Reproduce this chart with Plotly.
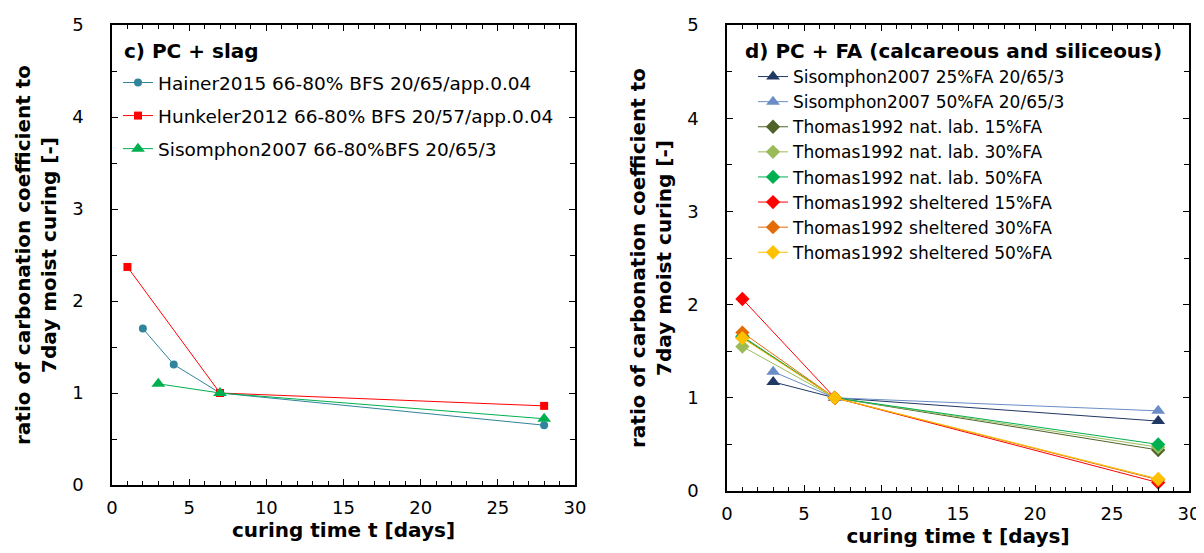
import plotly.graph_objects as go

# ---------------- data ----------------
# c) PC + slag
hainer_x = [2, 4, 7, 28]
hainer_y = [1.70, 1.31, 1.00, 0.65]
hunkeler_x = [1, 7, 28]
hunkeler_y = [2.37, 1.00, 0.86]
sis_slag_x = [3, 7, 28]
sis_slag_y = [1.10, 1.00, 0.72]

# d) PC + FA
sis25_x = [3, 7, 28]
sis25_y = [1.17, 1.00, 0.75]
sis50_x = [3, 7, 28]
sis50_y = [1.28, 1.00, 0.86]
thomas_x = [1, 7, 28]
nat15_y = [1.65, 1.00, 0.44]
nat30_y = [1.55, 1.00, 0.47]
nat50_y = [1.66, 1.00, 0.50]
sh15_y = [2.06, 1.00, 0.09]
sh30_y = [1.70, 1.00, 0.12]
sh50_y = [1.64, 1.00, 0.13]

x_ticks = [0, 5, 10, 15, 20, 25, 30]
y_ticks = [0, 1, 2, 3, 4, 5]

FONT = "DejaVu Sans, Verdana, sans-serif"
W, H = 1204, 553

fig = go.Figure()


def add(x, y, name, color, symbol, size, xa, ya, legend):
    fig.add_trace(go.Scatter(
        x=x, y=y, name=name, mode="lines+markers",
        line=dict(color=color, width=1),
        marker=dict(color=color, symbol=symbol, size=size),
        xaxis=xa, yaxis=ya, legend=legend, legendgroup=name,
    ))


add(hainer_x, hainer_y, "Hainer2015 66-80% BFS 20/65/app.0.04", "#31849B", "circle", 8, "x", "y", "legend")
add(hunkeler_x, hunkeler_y, "Hunkeler2012 66-80% BFS 20/57/app.0.04", "#FF0000", "square", 8, "x", "y", "legend")
add(sis_slag_x, sis_slag_y, "Sisomphon2007 66-80%BFS 20/65/3", "#00B050", "triangle-up", 12, "x", "y", "legend")

add(sis25_x, sis25_y, "Sisomphon2007 25%FA 20/65/3", "#1F3864", "triangle-up", 12, "x2", "y2", "legend2")
add(sis50_x, sis50_y, "Sisomphon2007 50%FA 20/65/3", "#6A8DC6", "triangle-up", 12, "x2", "y2", "legend2")
add(thomas_x, nat15_y, "Thomas1992 nat. lab. 15%FA", "#4F6228", "diamond", 11, "x2", "y2", "legend2")
add(thomas_x, nat30_y, "Thomas1992 nat. lab. 30%FA", "#9BBB59", "diamond", 11, "x2", "y2", "legend2")
add(thomas_x, nat50_y, "Thomas1992 nat. lab. 50%FA", "#00B050", "diamond", 11, "x2", "y2", "legend2")
add(thomas_x, sh15_y, "Thomas1992 sheltered 15%FA", "#FF0000", "diamond", 11, "x2", "y2", "legend2")
add(thomas_x, sh30_y, "Thomas1992 sheltered 30%FA", "#E36C09", "diamond", 11, "x2", "y2", "legend2")
add(thomas_x, sh50_y, "Thomas1992 sheltered 50%FA", "#FFC000", "diamond", 11, "x2", "y2", "legend2")

TITLE_FONT = dict(size=20, color="black", family=FONT)
TICK_FONT = dict(size=18, color="black", family=FONT)


def xaxis(domain, anchor, title):
    return dict(
        domain=domain, anchor=anchor, range=[0, 30],
        tickvals=x_ticks, ticks="inside", ticklen=6, tickwidth=1.3, tickcolor="black",
        minor=dict(dtick=1, ticks="inside", ticklen=4, tickwidth=1, tickcolor="black"),
        showline=True, linecolor="black", linewidth=1.5, mirror="allticks",
        showgrid=False, zeroline=False, automargin=False,
        tickfont=TICK_FONT, ticklabelstandoff=6,
        title=dict(text=title, font=TITLE_FONT, standoff=4),
    )


def yaxis(domain, anchor, title):
    return dict(
        domain=domain, anchor=anchor, range=[0, 5],
        tickvals=y_ticks, ticks="inside", ticklen=6, tickwidth=1.3, tickcolor="black",
        minor=dict(dtick=0.5, ticks="inside", ticklen=5, tickwidth=1, tickcolor="black"),
        showline=True, linecolor="black", linewidth=1.5, mirror="allticks",
        showgrid=False, zeroline=False, automargin=False,
        tickfont=TICK_FONT, ticklabelstandoff=23,
        title=dict(text=title, font=TITLE_FONT, standoff=10),
    )


xtitle = "<b>curing time t [days]</b>"
ytitle = "<b>ratio of carbonation coefficient to<br>7day moist curing [-]</b>"

fig.update_layout(
    width=W, height=H,
    margin=dict(l=0, r=0, t=0, b=0),
    paper_bgcolor="white", plot_bgcolor="white",
    font=dict(family=FONT, color="black"),
    xaxis=xaxis([104 / W, 567 / W], "y", xtitle),
    yaxis=yaxis([1 - 477 / H, 1 - 17 / H], "x", ytitle),
    xaxis2=xaxis([719 / W, 1181 / W], "y2", xtitle),
    yaxis2=yaxis([1 - 483 / H, 1 - 17 / H], "x2", ytitle),
    legend=dict(
        x=110 / W, y=1 - 56 / H, xanchor="left", yanchor="top",
        bgcolor="rgba(0,0,0,0)", itemwidth=30, tracegroupgap=6,
        font=dict(size=18.5, color="black", family=FONT),
    ),
    legend2=dict(
        x=745 / W, y=1 - 51 / H, xanchor="left", yanchor="top",
        bgcolor="rgba(0,0,0,0)", itemwidth=30, tracegroupgap=0,
        font=dict(size=17, color="black", family=FONT),
    ),
    annotations=[
        dict(text="<b>c) PC + slag</b>", xref="paper", yref="paper",
             x=114 / W, y=1 - 43 / H, xanchor="left", yanchor="middle",
             showarrow=False, font=dict(size=20, color="black", family=FONT)),
        dict(text="<b>d) PC + FA (calcareous and siliceous)</b>", xref="paper", yref="paper",
             x=735 / W, y=1 - 43 / H, xanchor="left", yanchor="middle",
             showarrow=False, font=dict(size=20, color="black", family=FONT)),
    ],
)

fig.write_html("out.html")
